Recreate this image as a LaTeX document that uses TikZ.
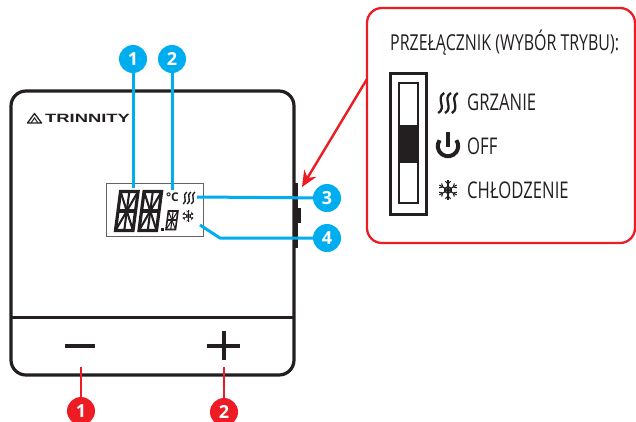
\documentclass[tikz,border=0pt]{standalone}
\usepackage{fontspec}
\setmainfont[FakeStretch=0.725]{Open Sans}
\newfontfamily\numfont{Open Sans}
\newfontfamily\logofont[FakeStretch=1.53]{Liberation Sans}
\usetikzlibrary{arrows.meta}
\definecolor{tred}{HTML}{ED1C24}
\definecolor{tblue}{HTML}{00AEEF}
\definecolor{tblack}{HTML}{231F20}
\newcommand{\iconw}{1pt}
\tikzset{
  lcd_digit/.pic={
    \draw[tblack, line width=2*\iconw] (0,0) rectangle (1,1);
    \draw[tblack, line width=2*\iconw] (0,.5) -- (1,.5);
    \foreach \x/\y/\a/\b in {.5/0/.5/1,0/0/1/1,1/0/0/1}
      \draw[tblack, line width=1.3*\iconw] (\x,\y) -- (\a,\b);
  },
  heat_icon/.pic={
    \foreach \x in {-1,0,1}
      \draw[tblack, line width=\iconw] (\x*.68+.3,-1) .. controls (\x*.68-.6,-.5) and (\x*.68+.6,.5) .. (\x*.68-.3,1);
  },
  flake_icon/.pic={
    \foreach \a in {30,90,...,330} {
      \draw[tblack, line width=\iconw] (0,0) -- (\a:1);
      \draw[tblack, line width=\iconw] (\a:.62) -- ++(\a+45:.36);
      \draw[tblack, line width=\iconw] (\a:.62) -- ++(\a-45:.36);
      \draw[tblack, line width=\iconw] (\a:.35) -- (\a+60:.35);
    }
  },
}
\begin{document}
\begin{tikzpicture}[x=1pt,y=-1pt,
  body_box/.style={draw=tblack, line width=3.2pt, rounded corners=15pt, minimum width=283pt, minimum height=284pt, inner sep=0pt},
  lcd_box/.style={draw=tblack!70, line width=1pt, minimum width=97pt, minimum height=53pt, inner sep=0pt},
  callout_box/.style={draw=tred, line width=2.3pt, rounded corners=15pt, minimum width=268pt, minimum height=235pt, inner sep=0pt},
  blue_num/.style={circle, fill=tblue, text=white, minimum size=28pt, inner sep=0pt, font=\numfont\bfseries\fontsize{18}{18}\selectfont},
  red_num/.style={circle, fill=tred, text=white, minimum size=28pt, inner sep=0pt, font=\numfont\bfseries\fontsize{18}{18}\selectfont},
  blue_line/.style={draw=tblue, line width=3pt},
  red_line/.style={draw=tred, line width=2.4pt},
  label_txt/.style={anchor=west, inner sep=0pt, text=tblack, font=\fontsize{23}{23}\selectfont},
]
  \clip (0,0) rectangle (636,421);
  % thermostat body
  \node[body_box] (body) at (152.5,233) {};
  \fill[tblack] (293,183) rectangle (298,248);
  \fill[tblack] (296,208) rectangle (301,223);
  \draw[tblack, line width=3pt] (11,317) -- (294,317);
  \draw[tblack, line width=3.4pt] (65,346) -- (95,346);
  \draw[tblack, line width=3.4pt] (207,346) -- (240,346);
  \draw[tblack, line width=3.4pt] (224,331) -- (224,360);
  % logo
  \draw[tblack, line width=1.3pt, line join=round] (27.5,123) -- (34.5,113.5) -- (41.5,123) -- cycle;
  \draw[tblack, line width=1pt] (31,123) -- (34.5,118) -- (38,123);
  \node[inner sep=0pt, anchor=west, text=tblack, font=\logofont\bfseries\fontsize{12}{12}\selectfont] (logo) at (45,118) {TRINNITY};
  % display
  \node[lcd_box] (lcd) at (154.5,209.5) {};
  \renewcommand{\iconw}{1.6pt}
  \pic[xslant=.13, xscale=17.5, yscale=-39] at (115.5,230.5) {lcd_digit};
  \pic[xslant=.13, xscale=17.5, yscale=-39] at (139,230.5) {lcd_digit};
  \renewcommand{\iconw}{.8pt}
  \pic[xslant=.13, xscale=9.5, yscale=-18.5] at (166,229.5) {lcd_digit};
  \fill[tblack] (160.5,227.5) rectangle (163.5,231);
  \node[inner sep=0pt, text=tblack, font=\numfont\bfseries\fontsize{12}{12}\selectfont] (degc) at (172.5,197) {°C};
  \renewcommand{\iconw}{1.4pt}
  \pic[scale=6] at (189,198) {heat_icon};
  \renewcommand{\iconw}{.6pt}
  \pic[scale=6] at (188,216) {flake_icon};
  % switch
  \node[draw=tblack, line width=3pt, minimum width=36pt, minimum height=141pt, inner sep=0pt] (switch) at (408.5,144) {};
  \node[draw=tblack, line width=1.5pt, minimum width=19pt, minimum height=120pt, inner sep=0pt] (slot) at (408.5,143) {};
  \fill[tblack] (399,125) rectangle (418,163);
  % callout
  \node[callout_box] (callout) at (501,125.5) {};
  \node[label_txt, font=\fontsize{22}{22}\selectfont] (title) at (390,43) {PRZEŁĄCZNIK (WYBÓR TRYBU):};
  \node[label_txt] (heat) at (467,102) {GRZANIE};
  \node[label_txt] (off) at (467,146) {OFF};
  \node[label_txt] (cool) at (467,190) {CHŁODZENIE};
  \renewcommand{\iconw}{2.3pt}
  \pic[scale=10] at (448,103) {heat_icon};
  \draw[tblack, line width=4pt] (439.6,140.2) arc[start angle=215, end angle=-35, radius=10.2];
  \draw[tblack, line width=4pt] (448,132) -- (448,147);
  \renewcommand{\iconw}{1.1pt}
  \pic[scale=10] at (448,190) {flake_icon};
  % numbers
  \node[blue_num] (b1) at (133,59) {1};
  \node[blue_num] (b2) at (172,59) {2};
  \node[blue_num] (b3) at (327,198) {3};
  \node[blue_num] (b4) at (327,238) {4};
  \node[red_num] (r1) at (81,411) {1};
  \node[red_num] (r2) at (224,412) {2};
  \coordinate (b1_end) at (133,188);
  \coordinate (b2_end) at (172,190);
  \coordinate (b3_end) at (197,197);
  \coordinate (b4_end) at (200,225);
  \coordinate (b4_knee) at (220,238);
  \coordinate (r1_end) at (81,367);
  \coordinate (r2_end) at (224,367);
  \coordinate (arrow_from) at (367,79);
  \coordinate (arrow_to) at (302,187);
  \draw[blue_line] (b1) -- (b1_end);
  \draw[blue_line] (b2) -- (b2_end);
  \draw[blue_line] (b3) -- (b3_end);
  \draw[blue_line] (b4) -- (b4_knee) -- (b4_end);
  \draw[red_line] (r1) -- (r1_end);
  \draw[red_line] (r2) -- (r2_end);
  \draw[red_line, -{Stealth[length=16pt,width=14pt]}] (arrow_from) -- (arrow_to);
\end{tikzpicture}
\end{document}
